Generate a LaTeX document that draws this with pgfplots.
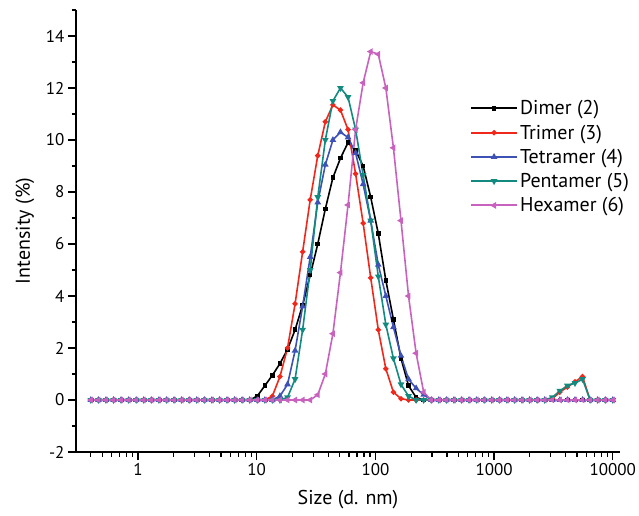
\documentclass[border=0pt]{standalone}
\usepackage{pgfplots}
\pgfplotsset{compat=1.18}
\usepackage{pgfplotstable}
\usepackage{fontspec}
\setmainfont{PT Sans}
\definecolor{cdim}{RGB}{0,0,0}
\definecolor{ctri}{RGB}{240,40,28}
\definecolor{ctet}{RGB}{62,82,182}
\definecolor{cpen}{RGB}{18,138,128}
\definecolor{chex}{RGB}{200,98,190}
\pgfplotstableread{
x dim tri tet pen hex
0.4 0 0 0 0 0
0.4632 0 0 0 0 0
0.5365 0 0 0 0 0
0.6213 0 0 0 0 0
0.7195 0 0 0 0 0
0.8332 0 0 0 0 0
0.9649 0 0 0 0 0
1.117 0 0 0 0 0
1.294 0 0 0 0 0
1.499 0 0 0 0 0
1.736 0 0 0 0 0
2.01 0 0 0 0 0
2.328 0 0 0 0 0
2.696 0 0 0 0 0
3.122 0 0 0 0 0
3.615 0 0 0 0 0
4.187 0 0 0 0 0
4.849 0 0 0 0 0
5.615 0 0 0 0 0
6.503 0 0 0 0 0
7.531 0 0 0 0 0
8.721 0 0 0 0 0
10.1 0.15 0 0 0 0
11.7 0.55 0 0 0 0
13.54 0.95 0.15 0 0 0
15.69 1.4 0.9 0.15 0 0
18.17 1.95 2.0 0.6 0.1 0
21.04 2.7 3.7 1.9 0.8 0
24.36 3.65 5.7 3.6 2.7 0
28.21 4.8 7.7 5.5 5.0 0
32.67 6.0 9.4 7.6 7.8 0.2
37.84 7.35 10.7 9.05 10.0 1.0
43.82 8.55 11.35 10.0 11.5 2.55
50.75 9.3 11.15 10.3 12.0 4.9
58.77 9.9 10.4 10.1 11.65 7.5
68.06 9.6 8.7 9.5 10.4 10.4
78.82 9.0 6.8 8.3 8.65 12.2
91.28 7.8 4.7 6.9 6.9 13.4
105.7 6.4 2.7 5.2 4.75 13.3
122.4 4.6 1.2 4.0 2.9 12.0
141.8 3.1 0.3 2.8 1.6 9.7
164.2 1.6 0.05 1.7 0.6 6.9
190.1 0.55 0 0.8 0.15 4.0
220.2 0.1 0 0.45 0 1.8
255 0 0 0.2 0 0.3
295.3 0 0 0 0 0
342 0 0 0 0 0
396.1 0 0 0 0 0
458.7 0 0 0 0 0
531.2 0 0 0 0 0
615.1 0 0 0 0 0
712.4 0 0 0 0 0
825 0 0 0 0 0
955.4 0 0 0 0 0
1106 0 0 0 0 0
1281 0 0 0 0 0
1484 0 0 0 0 0
1718 0 0 0 0 0
1990 0 0 0 0 0
2305 0 0 0 0 0
2669 0 0 0 0 0
3091 0 0.05 0 0.1 0
3580 0 0.3 0 0.35 0
4145 0 0.5 0 0.55 0
4801 0 0.7 0 0.65 0
5560 0 0.9 0 0.8 0
6439 0 0 0 0 0
7456 0 0 0 0 0
8635 0 0 0 0 0
10000 0 0 0 0 0
}\dls
\begin{document}
\begin{tikzpicture}
\useasboundingbox (-76pt,-64pt) rectangle (563pt,452pt);
\begin{axis}[
  scale only axis,
  width=544pt, height=442pt,
  xmode=log,
  xmin=0.3, xmax=11500,
  ymin=-2, ymax=15,
  axis x line*=bottom,
  axis y line*=left,
  axis line style={line width=1.4pt},
  xtick={1,10,100,1000,10000},
  xticklabels={1,10,100,1000,10000},
  minor xtick={0.4,0.5,0.6,0.7,0.8,0.9,2,3,4,5,6,7,8,9,20,30,40,50,60,70,80,90,200,300,400,500,600,700,800,900,2000,3000,4000,5000,6000,7000,8000,9000},
  ytick={-2,0,2,4,6,8,10,12,14},
  minor ytick={-1,1,3,5,7,9,11,13,15},
  tick align=outside,
  major tick length=8pt,
  minor tick length=4.5pt,
  every tick/.style={line width=1.3pt, black},
  /pgf/number format/assume math mode=true,
  tick label style={font=\fontsize{17}{20}\selectfont},
  xlabel={Size (d. nm)},
  ylabel={Intensity (\%)},
  label style={font=\fontsize{20}{24}\selectfont},
  xlabel style={at={(axis description cs:0.5,0)}, anchor=center, yshift=-48pt},
  ylabel style={at={(axis description cs:0,0.5)}, anchor=center, yshift=51pt},
  clip=false,
  legend style={draw=none, fill=none, font=\fontsize{20}{24}\selectfont,
    at={(axis description cs:0.724,0.80)}, anchor=north west,
    row sep=4.5pt, inner sep=0pt},
  legend cell align=left,
  legend image code/.code={%
    \draw[#1, mark=none, line width=2pt] (0pt,0pt) -- (46pt,0pt);
    \draw[#1, only marks] plot coordinates {(23pt,0pt)};},
  every axis plot/.append style={line width=1.6pt},
]
\addplot[cdim, mark=square*, mark size=1.5pt] table[x=x,y=dim]{\dls};
\addlegendentry{Dimer (2)}
\addplot[ctri, mark=*, mark size=1.8pt] table[x=x,y=tri]{\dls};
\addlegendentry{Trimer (3)}
\addplot[ctet, mark=triangle*, mark size=2.3pt] table[x=x,y=tet]{\dls};
\addlegendentry{Tetramer (4)}
\addplot[cpen, mark=triangle*, mark size=2.3pt, mark options={rotate=180}] table[x=x,y=pen]{\dls};
\addlegendentry{Pentamer (5)}
\addplot[chex, mark=triangle*, mark size=2.3pt, mark options={rotate=90}] table[x=x,y=hex]{\dls};
\addlegendentry{Hexamer (6)}
\end{axis}
\end{tikzpicture}
\end{document}
